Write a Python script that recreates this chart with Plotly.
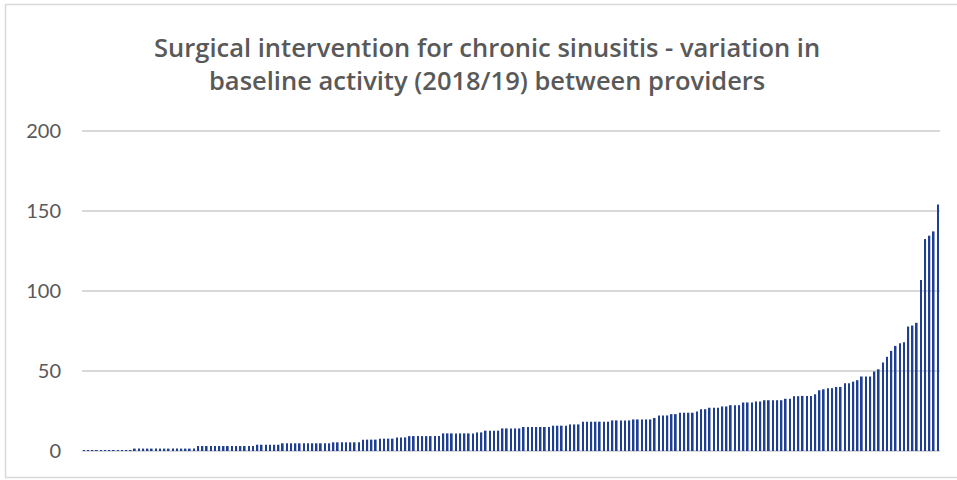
import plotly.graph_objects as go

# Baseline activity (2018/19) per provider, sorted ascending
activity = [
    0.6, 0.6, 0.6, 0.6, 0.6, 0.6, 0.6, 0.6, 0.6, 0.6, 0.6, 0.6,
    1.5, 1.5, 1.5, 1.5, 1.5, 1.5, 1.5, 1.5, 1.5, 1.5, 1.5, 1.5, 1.5, 1.5, 1.5,
    3.1, 3.1, 3.1, 3.1, 3.1, 3.1, 3.1, 3.1,
    3.1, 3.1, 3.1, 3.1, 3.1, 3.1,
    3.9, 3.9, 3.9, 3.9, 3.9, 3.9,
    4.8, 4.8, 4.8, 4.8, 4.8, 4.8, 4.8, 4.8, 4.8, 4.8, 4.8, 4.8,
    5.4, 5.4, 5.4, 5.4, 5.4, 5.4, 5.4,
    7.1, 7.1, 7.1,
    7.1, 7.7, 7.7, 7.7, 7.7, 8.5, 8.5, 8.5,
    9.3, 9.3, 9.3, 9.3, 9.3, 9.3, 9.3, 9.3,
    11.0, 11.0, 11.0, 11.0, 11.0, 11.0, 11.0, 11.0,
    11.6, 11.6, 12.7, 12.7, 12.7, 12.7,
    14.1, 14.1, 14.1, 14.1, 14.1,
    15.0, 15.0, 15.0, 15.0, 15.0, 15.0, 15.0,
    15.8, 15.8, 15.8, 15.8, 16.6, 16.6, 16.6,
    18.3, 18.3, 18.3, 18.3, 18.3, 18.3, 18.3,
    19.1, 19.1, 19.1, 19.1, 19.1,
    19.7, 19.7, 19.7, 19.7, 19.7, 20.6, 22.2, 22.2,
    22.2, 23.0, 23.0, 23.9, 23.9, 23.9, 23.9, 24.7, 26.1, 26.1,
    27.0, 27.0, 27.0, 27.8, 27.8, 28.6, 28.6, 28.6,
    30.3, 30.3, 30.3, 30.9, 30.9,
    31.7, 31.7, 31.7, 31.7, 31.7, 32.6, 32.6, 34.2, 34.2,
    34.4, 34.4, 34.4, 35.4, 37.9, 38.5, 39.2, 39.2, 40.0, 40.0,
    42.3, 42.3, 43.3, 44.2, 46.5, 46.5, 46.5, 49.6, 51.0, 55.2,
    58.8, 62.5, 65.6, 67.3, 67.9, 77.7, 78.3, 80.0, 106.7,
    132.3, 134.4, 137.1, 153.8,
]
providers = [f"Provider {i + 1}" for i in range(len(activity))]
y_ticks = [0, 50, 100, 150, 200]

TEXT = "#595959"
GRID = "#d9d9d9"

fig = go.Figure(
    go.Bar(
        x=providers,
        y=activity,
        marker=dict(color="#1f3f93", line=dict(width=0)),
        hoverinfo="x+y",
    )
)

W, H = 957, 480
L, R, T, B = 82, 17, 129, 29
pw, ph = W - L - R, H - T - B


def px_x(p):
    return (p - L) / pw


def px_y(p):
    return (H - B - p) / ph


fig.update_layout(
    width=W,
    height=H,
    margin=dict(l=L, r=R, t=T, b=B, pad=0),
    paper_bgcolor="white",
    plot_bgcolor="white",
    bargap=0.6,
    showlegend=False,
    title=dict(
        text="Surgical intervention for chronic sinusitis - variation in<br>"
             "baseline activity (2018/19) between providers",
        x=0.509,
        xanchor="center",
        y=1 - 57 / H,
        yanchor="top",
        font=dict(family="Open Sans", size=25.5, color=TEXT, weight=600),
    ),
    xaxis=dict(
        showticklabels=False,
        ticks="",
        showgrid=False,
        showline=False,
        zeroline=False,
    ),
    yaxis=dict(
        range=[0, 201],
        tickvals=y_ticks,
        ticktext=[str(v) for v in y_ticks],
        tickfont=dict(family="Lato", size=20, color=TEXT),
        ticks="",
        ticklabelstandoff=20,
        showgrid=True,
        gridcolor=GRID,
        gridwidth=1.5,
        zeroline=True,
        zerolinecolor=GRID,
        zerolinewidth=2,
        showline=False,
    ),
    shapes=[
        # chart frame
        dict(
            type="rect",
            xref="paper",
            yref="paper",
            x0=px_x(5.5),
            x1=px_x(962),
            y0=px_y(477.5),
            y1=px_y(4.5),
            line=dict(color=GRID, width=1.5),
            fillcolor="rgba(0,0,0,0)",
            layer="below",
        )
    ],
)

fig.write_html("out.html")
